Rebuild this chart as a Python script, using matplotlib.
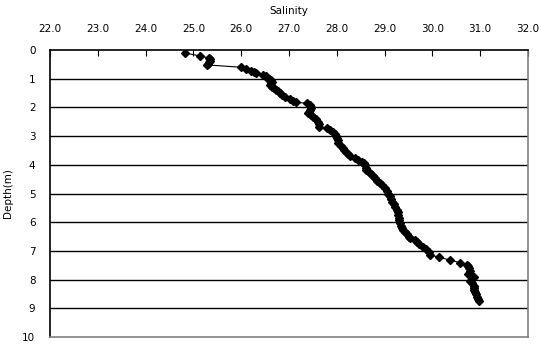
import matplotlib.pyplot as plt

# salinity profile
depth = [0.10, 0.21, 0.28, 0.33, 0.38, 0.43, 0.48, 0.52, 0.60, 0.66, 0.72, 0.77, 0.81, 0.88,
         0.91, 0.96, 1.02, 1.06, 1.10, 1.16, 1.22, 1.28, 1.33, 1.38, 1.44, 1.51, 1.57, 1.65,
         1.72, 1.77, 1.82, 1.86, 1.92, 1.98, 2.03, 2.10, 2.16, 2.21, 2.28, 2.35, 2.42, 2.50,
         2.58, 2.67, 2.73, 2.80, 2.85, 2.92, 3.00, 3.08, 3.15, 3.25, 3.33, 3.40, 3.47, 3.54,
         3.62, 3.70, 3.77, 3.83, 3.90, 3.95, 4.02, 4.10, 4.18, 4.26, 4.33, 4.40, 4.47, 4.55,
         4.63, 4.72, 4.82, 4.90, 5.00, 5.10, 5.20, 5.28, 5.38, 5.48, 5.57, 5.65, 5.75, 5.85,
         5.92, 6.02, 6.12, 6.20, 6.27, 6.35, 6.42, 6.50, 6.56, 6.62, 6.68, 6.75, 6.85, 6.95,
         7.05, 7.14, 7.22, 7.32, 7.41, 7.48, 7.53, 7.60, 7.69, 7.80, 7.86, 7.92, 7.98, 8.05,
         8.12, 8.22, 8.30, 8.36, 8.42, 8.50, 8.59, 8.66, 8.73]
salinity = [24.82, 25.14, 25.33, 25.35, 25.34, 25.32, 25.30, 25.29, 25.99, 26.10, 26.20, 26.26, 26.31, 26.45,
            26.51, 26.55, 26.58, 26.62, 26.65, 26.62, 26.60, 26.64, 26.68, 26.72, 26.76, 26.81, 26.86, 26.92,
            27.03, 27.08, 27.15, 27.38, 27.43, 27.46, 27.47, 27.44, 27.41, 27.40, 27.46, 27.51, 27.56, 27.61,
            27.62, 27.63, 27.79, 27.86, 27.93, 27.96, 27.99, 28.00, 28.02, 28.03, 28.08, 28.13, 28.16, 28.20,
            28.23, 28.28, 28.38, 28.45, 28.52, 28.57, 28.60, 28.61, 28.62, 28.67, 28.71, 28.76, 28.80, 28.85,
            28.90, 28.95, 29.01, 29.05, 29.08, 29.11, 29.13, 29.15, 29.19, 29.22, 29.25, 29.27, 29.28, 29.30,
            29.31, 29.33, 29.35, 29.37, 29.39, 29.43, 29.47, 29.51, 29.53, 29.63, 29.67, 29.73, 29.81, 29.87,
            29.92, 29.95, 30.14, 30.37, 30.58, 30.72, 30.75, 30.77, 30.79, 30.75, 30.82, 30.87, 30.83, 30.79,
            30.82, 30.86, 30.87, 30.88, 30.89, 30.92, 30.94, 30.96, 30.97]

x_ticks = [22.0, 23.0, 24.0, 25.0, 26.0, 27.0, 28.0, 29.0, 30.0, 31.0, 32.0]
y_ticks = list(range(0, 11))

fig = plt.figure(figsize=(5.41, 3.49), dpi=100)
ax = fig.add_axes([50 / 541, 1 - 337 / 349, 478 / 541, 287 / 349])

for d in y_ticks[1:-1]:
    ax.axhline(d, color='black', linewidth=1.0, zorder=1)

ax.plot(salinity, depth, color='black', linewidth=0.8, marker='D', markersize=4.2, zorder=3)

ax.set_xlim(22, 32)
ax.set_ylim(10, 0)
ax.xaxis.tick_top()
ax.xaxis.set_label_position('top')
ax.set_xticks(x_ticks)
ax.set_xticklabels([f"{v:.1f}" for v in x_ticks], fontsize=7.5)
ax.set_yticks(y_ticks)
ax.set_yticklabels([str(v) for v in y_ticks], fontsize=7.5)
ax.tick_params(axis='x', direction='in', length=4, width=0.8, pad=11.5)
ax.tick_params(axis='y', length=0, pad=10.5)
ax.set_xlabel('Salinity', fontsize=7.5, labelpad=7)

# y label sits near the left edge of the figure
fig.text(8 / 541, 1 - 193 / 349, 'Depth(m)', rotation=90, fontsize=7.5,
         ha='center', va='center')

ax.spines['top'].set_color('black')
ax.spines['left'].set_color('black')
ax.spines['right'].set_color('#808080')
ax.spines['bottom'].set_color('#808080')
for s in ax.spines.values():
    s.set_linewidth(1.2)

fig.savefig('out.png', dpi=100)
